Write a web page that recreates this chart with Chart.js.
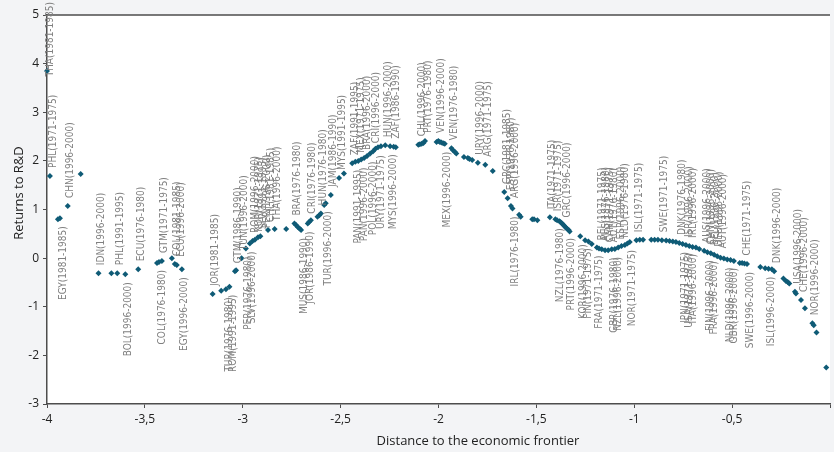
<!DOCTYPE html>
<html>
<head>
<meta charset="utf-8">
<script src="https://cdn.jsdelivr.net/npm/chart.js@4.4.1/dist/chart.umd.min.js"></script>
<style>
  html, body { margin: 0; padding: 0; background: #f3f4f6; }
  canvas { display: block; }
</style>
</head>
<body>
<canvas id="chart" width="834" height="452"></canvas>
<script>
// distance to the frontier (x) and estimated returns to R&D (y), one entry per country-period
const distance = [
  -4.000, -3.985, -3.944, -3.934, -3.894, -3.828, -3.737, -3.671, -3.641, -3.600,
  -3.534, -3.438, -3.428, -3.413, -3.362, -3.347, -3.337, -3.311, -3.154, -3.110,
  -3.086, -3.068, -3.040, -3.034, -3.006, -2.984, -2.964, -2.950, -2.938, -2.922,
  -2.910, -2.871, -2.837, -2.778, -2.736, -2.728, -2.719, -2.710, -2.702, -2.668,
  -2.660, -2.652, -2.618, -2.609, -2.601, -2.584, -2.576, -2.550, -2.508, -2.483,
  -2.441, -2.425, -2.410, -2.395, -2.380, -2.365, -2.349, -2.334, -2.322, -2.309,
  -2.294, -2.272, -2.247, -2.229, -2.218, -2.103, -2.095, -2.086, -2.077, -2.069,
  -2.010, -2.001, -1.993, -1.985, -1.976, -1.968, -1.934, -1.926, -1.917, -1.909,
  -1.870, -1.850, -1.842, -1.828, -1.799, -1.761, -1.723, -1.664, -1.647, -1.630,
  -1.622, -1.588, -1.580, -1.521, -1.512, -1.495, -1.431, -1.403, -1.394, -1.382,
  -1.376, -1.369, -1.364, -1.359, -1.352, -1.347, -1.342, -1.335, -1.330, -1.276,
  -1.251, -1.234, -1.217, -1.191, -1.180, -1.166, -1.149, -1.133, -1.115, -1.099,
  -1.082, -1.065, -1.048, -1.035, -1.023, -0.989, -0.972, -0.955, -0.913, -0.896,
  -0.879, -0.859, -0.837, -0.820, -0.803, -0.787, -0.770, -0.753, -0.736, -0.719,
  -0.702, -0.685, -0.668, -0.643, -0.626, -0.609, -0.592, -0.576, -0.559, -0.542,
  -0.525, -0.508, -0.491, -0.461, -0.449, -0.437, -0.424, -0.356, -0.331, -0.314,
  -0.297, -0.285, -0.238, -0.225, -0.216, -0.208, -0.179, -0.174, -0.148, -0.128,
  -0.090, -0.083, -0.069, -0.019
];

const returns = [
  3.85, 1.69, 0.80, 0.82, 1.07, 1.73, -0.31, -0.31, -0.31, -0.33,
  -0.23, -0.10, -0.08, -0.06, 0.00, -0.12, -0.14, -0.23, -0.74, -0.67,
  -0.64, -0.59, -0.27, -0.25, 0.00, 0.20, 0.30, 0.35, 0.38, 0.43,
  0.45, 0.58, 0.60, 0.60, 0.71, 0.68, 0.64, 0.61, 0.58, 0.71,
  0.75, 0.78, 0.85, 0.88, 0.92, 1.09, 1.13, 1.30, 1.65, 1.74,
  1.95, 1.98, 2.00, 2.03, 2.06, 2.10, 2.15, 2.20, 2.25, 2.28,
  2.30, 2.32, 2.30, 2.29, 2.28, 2.33, 2.34, 2.35, 2.37, 2.41,
  2.39, 2.41, 2.39, 2.38, 2.36, 2.35, 2.26, 2.22, 2.19, 2.15,
  2.08, 2.06, 2.04, 2.02, 1.96, 1.92, 1.79, 1.36, 1.23, 1.07,
  1.02, 0.89, 0.85, 0.80, 0.80, 0.78, 0.84, 0.80, 0.78, 0.76,
  0.74, 0.71, 0.69, 0.67, 0.64, 0.62, 0.60, 0.58, 0.55, 0.45,
  0.37, 0.34, 0.29, 0.22, 0.20, 0.18, 0.16, 0.16, 0.18, 0.19,
  0.22, 0.25, 0.27, 0.30, 0.33, 0.37, 0.38, 0.38, 0.38, 0.38,
  0.38, 0.37, 0.36, 0.35, 0.34, 0.33, 0.31, 0.29, 0.27, 0.25,
  0.23, 0.22, 0.19, 0.15, 0.12, 0.10, 0.07, 0.04, 0.01, -0.01,
  -0.03, -0.04, -0.06, -0.10, -0.10, -0.11, -0.12, -0.18, -0.21, -0.22,
  -0.23, -0.27, -0.42, -0.47, -0.49, -0.52, -0.69, -0.73, -0.86, -1.03,
  -1.34, -1.38, -1.53, -2.25
];

// country-period names, keyed by the distance of the point they belong to
const labelsAbove = [
  [-4.000, 'THA(1981-1985)'], [-3.985, 'PHL(1971-1975)'], [-3.894, 'CHN(1996-2000)'],
  [-3.737, 'IDN(1996-2000)'], [-3.641, 'PHL(1991-1995)'], [-3.534, 'ECU(1976-1980)'],
  [-3.413, 'GTM(1971-1975)'], [-3.347, 'COL(1981-1985)'], [-3.337, 'ECU(1996-2000)'],
  [-3.154, 'JOR(1981-1985)'], [-3.040, 'GTM(1986-1990)'], [-3.006, 'TUN(1996-2000)'],
  [-2.950, 'ROM(1996-2000)'], [-2.938, 'KOR(1971-1975)'], [-2.922, 'SLV(1991-1995)'],
  [-2.910, 'PER(1996-2000)'], [-2.871, 'CHL(1981-1985)'], [-2.837, 'THA(1996-2000)'],
  [-2.736, 'BRA(1976-1980)'], [-2.660, 'CRI(1976-1980)'], [-2.601, 'HUN(1976-1980)'],
  [-2.550, 'JAM(1986-1990)'], [-2.508, 'MYS(1991-1995)'], [-2.441, 'ZAF(1991-1995)'],
  [-2.410, 'MEX(1971-1975)'], [-2.380, 'BRA(1996-2000)'], [-2.334, 'CRI(1996-2000)'],
  [-2.272, 'HUN(1996-2000)'], [-2.229, 'ZAF(1986-1990)'], [-2.095, 'CHL(1996-2000)'],
  [-2.069, 'PRT(1976-1980)'], [-2.001, 'VEN(1996-2000)'], [-1.934, 'VEN(1976-1980)'],
  [-1.799, 'URY(1996-2000)'], [-1.761, 'ARG(1971-1975)'], [-1.664, 'GRC(1981-1985)'],
  [-1.647, 'ESP(1976-1980)'], [-1.630, 'ARG(1996-2000)'], [-1.431, 'ITA(1971-1975)'],
  [-1.403, 'ISR(1971-1975)'], [-1.359, 'GRC(1996-2000)'], [-1.180, 'BEL(1971-1975)'],
  [-1.166, 'AUS(1976-1980)'], [-1.149, 'CAN(1971-1975)'], [-1.133, 'AUT(1976-1980)'],
  [-1.082, 'ESP(1996-2000)'], [-1.065, 'NLD(1976-1980)'], [-0.989, 'ISL(1971-1975)'],
  [-0.859, 'SWE(1971-1975)'], [-0.770, 'DNK(1976-1980)'], [-0.736, 'ISR(1996-2000)'],
  [-0.719, 'IRL(1996-2000)'], [-0.643, 'AUS(1996-2000)'], [-0.626, 'CAN(1996-2000)'],
  [-0.609, 'BEL(1996-2000)'], [-0.592, 'DEU(1996-2000)'], [-0.576, 'AUT(1996-2000)'],
  [-0.437, 'CHE(1971-1975)'], [-0.285, 'DNK(1996-2000)'], [-0.179, 'USA(1996-2000)'],
  [-0.148, 'CHE(1996-2000)'], [-0.090, 'NOR(1996-2000)']
];

const labelsBelow = [
  [-3.934, 'EGY(1981-1985)'], [-3.600, 'BOL(1996-2000)'], [-3.428, 'COL(1976-1980)'],
  [-3.311, 'EGY(1996-2000)'], [-3.086, 'TUR(1976-1980)'], [-3.068, 'ROM(1991-1995)'],
  [-2.984, 'PER(1976-1980)'], [-2.964, 'SLV(1996-2000)'], [-2.702, 'MUS(1986-1990)'],
  [-2.668, 'JOR(1986-1990)'], [-2.576, 'TUR(1996-2000)'], [-2.425, 'PAN(1991-1995)'],
  [-2.395, 'PAN(1996-2000)'], [-2.349, 'POL(1996-2000)'], [-2.309, 'URY(1971-1975)'],
  [-2.247, 'MYS(1996-2000)'], [-1.968, 'MEX(1996-2000)'], [-1.622, 'IRL(1976-1980)'],
  [-1.394, 'NZL(1976-1980)'], [-1.335, 'PRT(1996-2000)'], [-1.276, 'KOR(1996-2000)'],
  [-1.251, 'FIN(1971-1975)'], [-1.191, 'FRA(1971-1975)'], [-1.115, 'GBR(1976-1980)'],
  [-1.099, 'NZL(1996-2000)'], [-1.023, 'NOR(1971-1975)'], [-0.753, 'JPN(1971-1975)'],
  [-0.736, 'USA(1971-1975)'], [-0.719, 'ITA(1996-2000)'], [-0.626, 'FIN(1996-2000)'],
  [-0.609, 'FRA(1996-2000)'], [-0.525, 'NLD(1996-2000)'], [-0.508, 'GBR(1996-2000)'],
  [-0.424, 'SWE(1996-2000)'], [-0.314, 'ISL(1996-2000)']
];

const xTitle = 'Distance to the economic frontier';
const yTitle = 'Returns to R&D';

const AXIS = '#4d4d4d';
const TICK_FONT = { family: '"Open Sans", "Noto Sans", sans-serif', size: 12 };

// white plot area, top rule and the two axis titles
const frame = {
  id: 'frame',
  beforeDraw(chart) {
    const { ctx, chartArea: a } = chart;
    ctx.save();
    ctx.fillStyle = '#ffffff';
    ctx.fillRect(a.left, a.top, a.right - a.left, a.bottom - a.top);
    ctx.strokeStyle = AXIS;
    ctx.lineWidth = 1.5;
    ctx.beginPath();
    ctx.moveTo(a.left, a.top);
    ctx.lineTo(a.right, a.top);
    ctx.stroke();
    ctx.restore();
  },
  afterDraw(chart) {
    const { ctx } = chart;
    ctx.save();
    ctx.fillStyle = '#222';
    ctx.font = '13px "Open Sans", "Noto Sans", sans-serif';
    ctx.textAlign = 'center';
    ctx.textBaseline = 'middle';
    ctx.fillText(xTitle, 478, 441);
    ctx.translate(19, 193);
    ctx.rotate(-Math.PI / 2);
    ctx.fillText(yTitle, 0, 0);
    ctx.restore();
  }
};

// vertical country labels, above or below their point
const pointLabels = {
  id: 'pointLabels',
  afterDatasetsDraw(chart) {
    const { ctx, scales: { x, y } } = chart;
    ctx.save();
    ctx.font = '10px "DejaVu Sans Condensed", "Liberation Sans Narrow", "DejaVu Sans", sans-serif';
    ctx.fillStyle = '#808080';
    ctx.textAlign = 'left';
    ctx.textBaseline = 'middle';
    [[labelsAbove, -1], [labelsBelow, 1]].forEach(([list, dir]) => {
      const placed = [];
      list.map(([d, text]) => {
        const i = distance.indexOf(d);
        const px = x.getPixelForValue(d);
        const py = y.getPixelForValue(returns[i]);
        const w = ctx.measureText(text).width;
        let top, bottom;
        if (dir < 0) {
          bottom = py - 8;
          top = bottom - w;
          if (top < 2) { top = 2; bottom = top + w; }
        } else {
          top = py + 8;
          bottom = top + w;
        }
        return { text, px, top, bottom };
      }).sort((a, b) => a.px - b.px).forEach(l => {
        let tx = l.px + 3;
        placed.forEach(p => {
          if (p.top < l.bottom && l.top < p.bottom) tx = Math.max(tx, p.tx + 4);
        });
        l.tx = tx;
        placed.push(l);
        ctx.save();
        ctx.translate(tx, l.bottom);
        ctx.rotate(-Math.PI / 2);
        ctx.fillText(l.text, 0, 0);
        ctx.restore();
      });
    });
    ctx.restore();
  }
};

new Chart(document.getElementById('chart'), {
  type: 'scatter',
  data: {
    datasets: [{
      data: distance.map((d, i) => ({ x: d, y: returns[i] })),
      pointStyle: 'rectRot',
      pointRadius: 3,
      pointHoverRadius: 3,
      backgroundColor: '#0f5b76',
      borderWidth: 0,
      clip: false
    }]
  },
  options: {
    responsive: false,
    animation: false,
    devicePixelRatio: 1,
    layout: { padding: { top: 15, right: 0, bottom: 0, left: 0 } },
    plugins: { legend: { display: false }, tooltip: { enabled: false } },
    scales: {
      x: {
        type: 'linear',
        min: -4,
        max: 0,
        afterFit: s => { s.height = 48; },
        ticks: {
          stepSize: 0.5,
          autoSkip: false,
          maxRotation: 0,
          padding: 4,
          color: '#222',
          font: TICK_FONT,
          callback: v => v === 0 ? '' : String(v).replace('.', ',')
        },
        grid: { drawOnChartArea: false, tickLength: 4, color: AXIS },
        border: { color: AXIS, width: 1.5 }
      },
      y: {
        min: -3,
        max: 5,
        afterFit: s => { s.width = 47; },
        ticks: { stepSize: 1, padding: 4, color: '#222', font: TICK_FONT },
        grid: { drawOnChartArea: false, tickLength: 4, color: AXIS },
        border: { color: AXIS, width: 1.5 }
      }
    }
  },
  plugins: [frame, pointLabels]
});
</script>
</body>
</html>
